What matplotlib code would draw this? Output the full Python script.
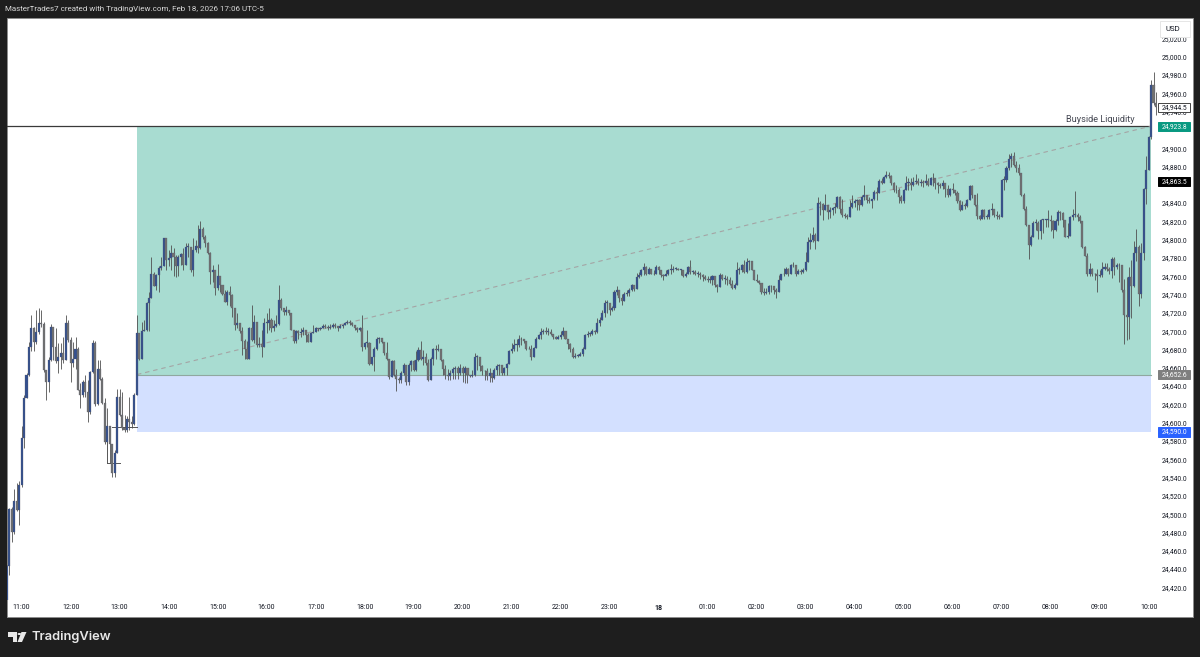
import matplotlib
matplotlib.use("Agg")
import matplotlib.pyplot as plt
from matplotlib.patches import Rectangle, Polygon, Circle

W, H = 1200, 657

closes = [
24443,24506,24481,24514,24505,24532,24583,24627,24652,24683,
24704,24688,24699,24709,24708,24658,24645,24669,24705,24683,
24667,24672,24676,24668,24709,24690,24665,24670,24681,24636,
24630,24645,24634,24612,24655,24687,24620,24659,24648,24621,
24579,24596,24577,24545,24567,24628,24608,24594,24592,24604,
24601,24599,24630,24698,24670,24700,24701,24731,24736,24763,
24749,24761,24769,24771,24802,24778,24780,24785,24781,24771,
24781,24784,24772,24792,24792,24767,24789,24793,24791,24812,
24803,24796,24785,24765,24767,24747,24760,24751,24741,24732,
24743,24740,24725,24707,24709,24700,24689,24680,24670,24703,
24690,24710,24685,24686,24683,24709,24709,24712,24703,24706,
24708,24734,24725,24721,24723,24720,24701,24689,24700,24698,
24699,24701,24696,24688,24698,24699,24703,24702,24703,24706,
24705,24703,24705,24707,24706,24703,24706,24707,24709,24710,
24709,24707,24703,24701,24703,24683,24687,24687,24664,24672,
24681,24692,24693,24688,24676,24670,24650,24667,24652,24648,
24647,24654,24663,24645,24663,24667,24658,24668,24679,24670,
24672,24665,24647,24670,24681,24679,24680,24668,24659,24652,
24651,24654,24659,24660,24654,24660,24654,24660,24652,24651,
24652,24672,24672,24662,24656,24656,24651,24654,24649,24658,
24662,24663,24654,24660,24664,24678,24681,24685,24685,24691,
24691,24689,24681,24680,24672,24682,24692,24696,24699,24700,
24699,24699,24697,24694,24692,24694,24696,24700,24691,24686,
24681,24672,24673,24673,24675,24681,24696,24697,24697,24700,
24699,24709,24712,24720,24731,24731,24723,24725,24743,24745,
24736,24733,24741,24742,24745,24750,24746,24759,24761,24767,
24770,24762,24768,24763,24762,24770,24767,24761,24760,24763,
24767,24767,24768,24768,24767,24767,24760,24763,24770,24765,
24765,24763,24763,24761,24759,24757,24756,24756,24760,24750,
24748,24761,24757,24757,24756,24752,24747,24751,24767,24767,
24772,24765,24776,24777,24767,24756,24755,24753,24743,24742,
24743,24749,24749,24745,24743,24756,24762,24763,24768,24763,
24772,24772,24763,24766,24765,24767,24776,24797,24800,24805,
24799,24840,24839,24832,24838,24830,24832,24835,24836,24847,
24834,24827,24826,24825,24836,24840,24842,24843,24838,24847,
24849,24843,24842,24844,24852,24851,24864,24862,24868,24871,
24870,24862,24854,24854,24847,24842,24854,24862,24862,24860,
24863,24864,24862,24863,24862,24864,24860,24867,24867,24862,
24860,24859,24862,24855,24849,24855,24854,24851,24842,24833,
24838,24837,24843,24859,24849,24838,24826,24823,24833,24825,
24825,24832,24834,24827,24826,24825,24865,24865,24878,24888,
24892,24882,24878,24873,24849,24834,24816,24794,24803,24818,
24818,24809,24822,24822,24822,24822,24820,24811,24820,24830,
24829,24822,24803,24804,24825,24827,24827,24825,24820,24792,
24782,24762,24768,24762,24762,24760,24761,24768,24770,24768,
24766,24779,24770,24772,24772,24745,24718,24716,24759,24749,
24785,24792,24741,24785,24855,24876,24912,24969,24949,24945]

highs = [
24445,24507,24508,24528,24534,24536,24596,24630,24654,24688,
24718,24705,24723,24725,24723,24710,24658,24672,24708,24703,
24703,24687,24687,24694,24718,24712,24694,24688,24694,24683,
24643,24647,24652,24647,24656,24690,24689,24668,24668,24650,
24627,24616,24596,24567,24570,24637,24637,24634,24608,24607,
24628,24607,24632,24718,24698,24710,24712,24732,24743,24781,
24765,24763,24771,24781,24802,24802,24789,24794,24791,24783,
24783,24785,24791,24796,24796,24789,24802,24800,24816,24820,
24814,24805,24798,24787,24772,24767,24773,24760,24751,24745,
24745,24749,24741,24721,24720,24707,24705,24692,24689,24705,
24729,24718,24707,24694,24701,24714,24720,24725,24714,24712,
24718,24751,24736,24725,24727,24723,24720,24701,24701,24701,
24703,24705,24701,24698,24699,24707,24705,24703,24705,24708,
24708,24707,24708,24709,24709,24705,24708,24708,24710,24712,
24712,24710,24707,24705,24705,24718,24688,24701,24688,24672,
24683,24694,24694,24690,24688,24688,24670,24669,24668,24659,
24650,24656,24665,24663,24665,24668,24668,24678,24683,24689,
24679,24676,24670,24672,24682,24685,24686,24679,24670,24663,
24659,24658,24661,24662,24662,24664,24662,24662,24660,24652,
24658,24676,24674,24672,24663,24658,24660,24660,24652,24660,
24664,24664,24663,24661,24665,24679,24687,24692,24692,24696,
24694,24692,24687,24684,24685,24683,24694,24697,24703,24702,
24705,24703,24702,24697,24695,24696,24700,24705,24700,24692,
24687,24683,24676,24675,24677,24683,24697,24700,24699,24702,
24701,24714,24716,24723,24734,24734,24731,24727,24745,24749,
24743,24741,24743,24745,24747,24752,24751,24764,24765,24768,
24774,24771,24770,24768,24767,24772,24771,24767,24763,24767,
24768,24773,24771,24770,24769,24768,24767,24765,24771,24778,
24767,24767,24766,24765,24763,24761,24760,24760,24761,24760,
24752,24764,24762,24761,24760,24759,24756,24753,24776,24770,
24773,24778,24780,24778,24777,24767,24763,24756,24753,24747,
24747,24750,24750,24749,24747,24761,24763,24769,24770,24769,
24773,24776,24772,24768,24768,24769,24787,24803,24807,24814,
24807,24847,24842,24840,24850,24838,24836,24836,24840,24848,
24848,24845,24829,24828,24843,24849,24845,24845,24845,24849,
24860,24849,24847,24845,24854,24858,24866,24867,24870,24875,
24874,24871,24863,24860,24856,24849,24855,24870,24867,24867,
24869,24872,24867,24866,24865,24872,24867,24869,24873,24867,
24863,24862,24865,24862,24860,24856,24862,24854,24853,24843,
24842,24840,24845,24860,24860,24849,24851,24827,24834,24834,
24828,24834,24840,24834,24831,24828,24866,24870,24880,24894,
24895,24896,24886,24883,24873,24851,24837,24816,24805,24820,
24823,24820,24823,24823,24823,24832,24827,24822,24823,24833,
24831,24830,24822,24818,24826,24834,24853,24829,24827,24820,
24793,24785,24774,24769,24764,24768,24767,24776,24774,24774,
24770,24781,24781,24774,24774,24770,24757,24759,24770,24778,
24799,24812,24794,24796,24856,24892,24913,24974,24983,24961]

lows = [
24406,24434,24470,24478,24503,24488,24530,24572,24639,24651,
24678,24678,24686,24697,24705,24655,24625,24634,24667,24668,
24665,24654,24659,24665,24668,24688,24645,24661,24659,24636,
24616,24628,24628,24601,24610,24654,24618,24619,24647,24620,
24577,24581,24556,24541,24541,24567,24607,24592,24590,24590,
24592,24594,24597,24630,24669,24670,24700,24700,24700,24736,
24749,24745,24743,24767,24771,24767,24771,24767,24760,24759,
24760,24772,24767,24772,24781,24765,24760,24787,24785,24790,
24801,24792,24784,24752,24754,24740,24745,24743,24740,24732,
24729,24727,24716,24701,24703,24698,24674,24670,24670,24670,
24689,24687,24683,24683,24672,24683,24698,24701,24699,24700,
24705,24707,24723,24718,24718,24718,24701,24687,24687,24692,
24694,24696,24688,24688,24688,24698,24701,24700,24701,24703,
24703,24701,24702,24704,24704,24700,24703,24703,24707,24708,
24707,24706,24701,24699,24700,24678,24681,24683,24663,24663,
24657,24679,24687,24687,24674,24669,24648,24650,24651,24635,
24643,24643,24652,24641,24641,24656,24656,24656,24667,24669,
24663,24663,24646,24647,24663,24670,24678,24667,24652,24648,
24647,24647,24648,24648,24648,24652,24645,24643,24643,24650,
24650,24651,24658,24656,24652,24647,24647,24645,24644,24648,
24652,24652,24652,24652,24652,24664,24676,24678,24678,24683,
24685,24687,24679,24680,24669,24672,24682,24691,24692,24697,
24697,24696,24696,24691,24691,24691,24691,24695,24691,24680,
24677,24671,24671,24672,24674,24673,24680,24694,24695,24696,
24697,24698,24706,24712,24715,24720,24718,24722,24723,24740,
24732,24729,24733,24738,24738,24744,24744,24748,24758,24760,
24761,24761,24763,24762,24761,24762,24763,24759,24756,24760,
24761,24762,24765,24767,24767,24761,24759,24759,24763,24763,
24762,24761,24759,24757,24755,24756,24754,24753,24750,24748,
24743,24748,24756,24752,24751,24750,24746,24746,24750,24763,
24765,24764,24764,24767,24767,24756,24754,24752,24741,24740,
24741,24741,24743,24741,24736,24743,24756,24760,24763,24760,
24763,24770,24760,24763,24763,24764,24766,24776,24790,24798,
24790,24799,24827,24821,24832,24823,24824,24827,24829,24835,
24829,24825,24824,24823,24826,24835,24836,24833,24833,24837,
24843,24840,24840,24835,24843,24843,24851,24861,24862,24867,
24867,24860,24852,24851,24840,24840,24840,24854,24854,24854,
24859,24861,24860,24859,24858,24860,24859,24860,24859,24855,
24851,24856,24855,24847,24847,24848,24851,24849,24840,24831,
24833,24834,24836,24843,24846,24837,24823,24822,24823,24823,
24823,24823,24827,24825,24823,24823,24825,24854,24863,24876,
24879,24881,24874,24871,24848,24833,24815,24779,24793,24803,
24811,24801,24801,24807,24814,24814,24810,24802,24810,24816,
24822,24814,24803,24802,24805,24822,24825,24820,24818,24791,
24782,24760,24760,24760,24756,24743,24759,24759,24767,24766,
24762,24758,24761,24768,24754,24743,24686,24690,24691,24714,
24748,24777,24728,24736,24778,24839,24876,24910,24947,24936]

first_open = 24406
opens = [first_open] + closes[:-1]

price_ticks = [25020, 25000, 24980, 24960, 24940, 24900, 24880, 24840,
               24820, 24800, 24780, 24760, 24740, 24720, 24700, 24680, 24660, 24640,
               24620, 24600, 24580, 24560, 24540, 24520, 24500, 24480, 24460, 24440, 24420]
time_labels = ["11:00", "12:00", "13:00", "14:00", "15:00", "16:00", "17:00", "18:00",
               "19:00", "20:00", "21:00", "22:00", "23:00", "18", "01:00", "02:00",
               "03:00", "04:00", "05:00", "06:00", "07:00", "08:00", "09:00", "10:00"]
bars_per_label = 20
first_label_bar = 6

liquidity_level = 24923.8
zone_mid = 24652.6
zone_low = 24590.0
last_price = 24944.5
black_price = 24863.5
zone_start_bar = 53.1
zone_end_bar = 467.0

BG = "#1e1e1e"
GREEN = "#a8dcd1"
BLUE = "#d3e0ff"
UP = "#34508f"
DOWN = "#727272"
WICK = "#505050"
TEXT = "#131722"

plt.rcParams["font.family"] = ["Roboto", "DejaVu Sans"]
fig = plt.figure(figsize=(W / 100, H / 100), dpi=100, facecolor=BG)


def fx(px):
    return px / W


def fy(py):
    return 1 - py / H


# white chart panel including price and time scales
fig.patches.append(Rectangle((fx(7), fy(617)), fx(1186), 599 / H, transform=fig.transFigure,
                             facecolor="white", edgecolor="#8c8c8c", linewidth=0.7, zorder=-5))

AX_L, AX_R, AX_T, AX_B = 7, 1157, 18, 600
ax = fig.add_axes([fx(AX_L), fy(AX_B), fx(AX_R - AX_L), (AX_B - AX_T) / H])
ax.patch.set_alpha(0)
for s in ax.spines.values():
    s.set_visible(False)

bar_px = 2.45
anchor_px = 21.6
ax.set_xlim(first_label_bar - (anchor_px - AX_L) / bar_px, first_label_bar + (AX_R - anchor_px) / bar_px)
ax.set_ylim(24980 - (AX_B - 75) / 0.915, 24980 + (75 - AX_T) / 0.915)

# zones and levels
ax.add_patch(Rectangle((zone_start_bar, zone_mid), zone_end_bar - zone_start_bar,
                       liquidity_level - zone_mid, facecolor=GREEN, edgecolor="none", zorder=1))
ax.add_patch(Rectangle((zone_start_bar, zone_low), zone_end_bar - zone_start_bar,
                       zone_mid - zone_low, facecolor=BLUE, edgecolor="none", zorder=1))
ax.plot([zone_start_bar, zone_end_bar], [zone_mid, zone_mid], color="#8fa8a0", lw=0.8, zorder=2)
ax.plot([ax.get_xlim()[0], 466.5], [liquidity_level, liquidity_level], color="#3a3a3a", lw=0.9, zorder=2)
ax.plot([zone_start_bar, 466.5], [zone_mid, liquidity_level], color="#a4a4a4", lw=0.8,
        dashes=(4, 3.5), zorder=2)
ax.plot([43, 53.1], [24595, 24595], color="#555555", lw=0.7, zorder=2)
ax.plot([41, 46], [24556, 24556], color="#555555", lw=0.7, zorder=2)
ax.plot([41, 41], [24556, 24579], color="#555555", lw=0.7, zorder=2)

# candles
xs = list(range(len(closes)))
hi = [max(h, o, c) for h, o, c in zip(highs, opens, closes)]
lo = [min(l, o, c) for l, o, c in zip(lows, opens, closes)]
ax.vlines(xs, lo, hi, color=WICK, lw=0.6, zorder=3)
bottoms = [min(o, c) for o, c in zip(opens, closes)]
heights = [max(abs(c - o), 0.8) for o, c in zip(opens, closes)]
colors = [UP if c >= o else DOWN for o, c in zip(opens, closes)]
ax.bar(xs, heights, bottom=bottoms, width=0.82, color=colors, edgecolor="#55596a",
       linewidth=0.2, zorder=4)

# scales
ax.yaxis.tick_right()
ax.set_yticks(price_ticks)
ax.set_yticklabels([f"{p:,.1f}" for p in price_ticks])
ax.tick_params(axis="y", length=0, pad=3.6, labelsize=4.9, labelcolor=TEXT)
ax.set_xticks([first_label_bar + i * bars_per_label for i in range(len(time_labels))])
ax.set_xticklabels(time_labels)
ax.tick_params(axis="x", length=0, pad=3.2, labelsize=5.0, labelcolor=TEXT)
for t in ax.get_xticklabels():
    if t.get_text() == "18":
        t.set_fontweight("bold")


def tag(price, text, face, color, edge=None):
    py = H - ax.transData.transform((0, price))[1]
    fig.patches.append(Rectangle((fx(1157.5), fy(py + 4.7)), fx(32.5), 9.4 / H, transform=fig.transFigure,
                                 facecolor=face, edgecolor=edge or face, linewidth=0.7, zorder=5))
    fig.text(fx(1162), fy(py), text, color=color, fontsize=4.9, va="center", ha="left", zorder=6)


tag(last_price, f"{last_price:,.1f}", "white", TEXT, "#444444")
tag(liquidity_level, f"{liquidity_level:,.1f}", "#089981", "white")
tag(black_price, f"{black_price:,.1f}", "#000000", "white")
tag(zone_mid, f"{zone_mid:,.1f}", "#7f7f7f", "white")
tag(zone_low, f"{zone_low:,.1f}", "#2962ff", "white")

# USD box
fig.patches.append(Rectangle((fx(1160), fy(37)), fx(30), 16 / H, transform=fig.transFigure,
                             facecolor="white", edgecolor="#e6e6e6", linewidth=0.7, zorder=5))
fig.text(fx(1172.5), fy(29), "USD", color=TEXT, fontsize=5.6, ha="center", va="center", zorder=6)

# annotation and header
fig.text(fx(1100), fy(119), "Buyside Liquidity", color="#434651", fontsize=6.6,
         ha="center", va="center", zorder=6)
fig.text(fx(5), fy(9), "MasterTrades7 created with TradingView.com, Feb 18, 2026 17:06 UTC-5",
         color="#d8d8d8", fontsize=5.8, ha="left", va="center")

# TradingView logo
logo = "#e8e8e8"
def P(pts):
    fig.patches.append(Polygon([(fx(a), fy(b)) for a, b in pts], closed=True, transform=fig.transFigure,
                               facecolor=logo, edgecolor="none", zorder=5))
P([(8, 632), (17, 632), (17, 642), (12.5, 642), (12.5, 636.5), (8, 636.5)])
P([(21.5, 632), (26.5, 632), (22, 642), (17.5, 642)])
fig.patches.append(Circle((fx(19.4), fy(634)), 1.9 / W, transform=fig.transFigure,
                          facecolor=logo, edgecolor="none", zorder=5))
fig.text(fx(32), fy(637), "TradingView", color=logo, fontsize=9.3, fontweight="semibold",
         family=["Inter", "DejaVu Sans"], ha="left", va="center")

fig.savefig("out.png", dpi=100, facecolor=BG)
